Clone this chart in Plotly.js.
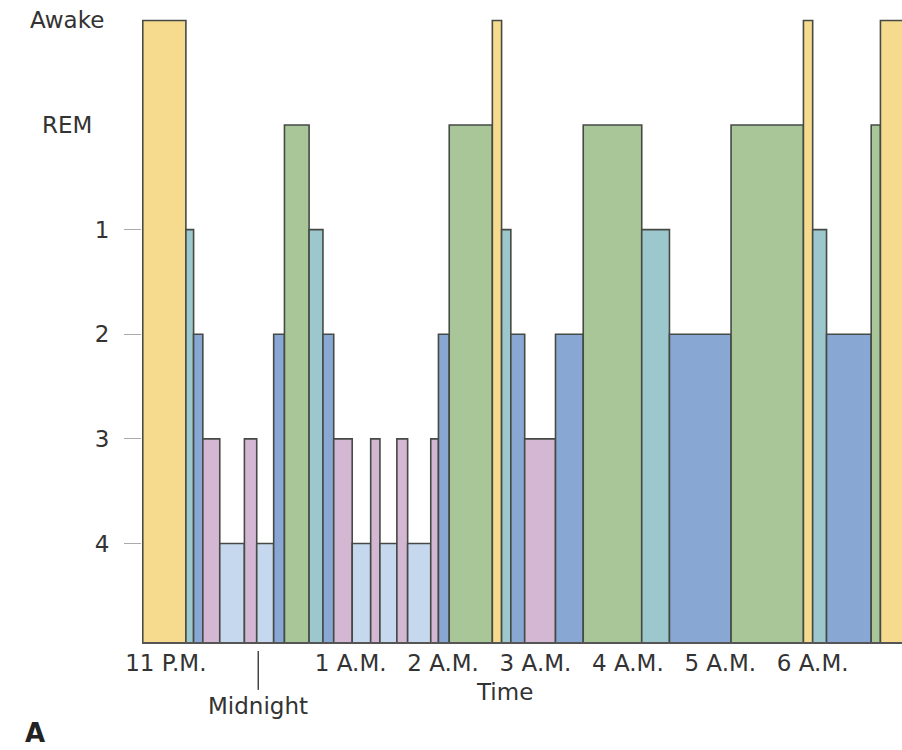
<!DOCTYPE html>
<html>
<head>
<meta charset="utf-8">
<script src="https://cdn.plot.ly/plotly-3.0.1.min.js"></script>
<style>html,body{margin:0;padding:0;background:#fff;}#chart{width:902px;height:750px;}</style>
</head>
<body>
<div id="chart"></div>
<script>
// Sleep stage start times, minutes after 11 P.M.
const stageStarts = [-15, 13, 18, 24, 35, 51, 59, 70, 77, 93, 102, 109, 121, 133, 139, 150, 157, 172, 177, 184, 212, 218, 224, 233, 253, 271, 309, 327, 367, 414, 420, 429, 458, 464];
const recordEnd = 490;
const stages = ["Awake","1","2","3","4","3","4","2","REM","1","2","3","4","3","4","3","4","3","2","REM","Awake","1","2","3","2","REM","1","2","REM","Awake","1","2","REM","Awake"];
// Level order from deepest (bottom) to awake (top)
const levelNames = ["4","3","2","1","REM","Awake"];
const levelValues = [1, 2, 3, 4, 5, 6];
const timeTickVals = [0, 60, 120, 180, 240, 300, 360, 420];
const timeTickText = ["11 P.M.", "", "1 A.M.", "2 A.M.", "3 A.M.", "4 A.M.", "5 A.M.", "6 A.M."];
const midnightLabel = "Midnight";
const axisTitle = "Time";
const panelLabel = "A";

const stageColors = {"Awake":"#F6DA8E","REM":"#A8C698","1":"#9CC8CD","2":"#89A7D3","3":"#D3B7D3","4":"#C5D8EE"};

const ends = stageStarts.slice(1).concat([recordEnd]);
const widths = stageStarts.map((s, i) => ends[i] - s);
const centers = stageStarts.map((s, i) => s + widths[i] / 2);
const heights = stages.map(s => levelValues[levelNames.indexOf(s)]);
const colors = stages.map(s => stageColors[s]);

const fontFam = "DejaVu Sans, Verdana, sans-serif";
const txtColor = "#333333";
const fs = 23;

const trace = {
  type: "bar",
  x: centers,
  y: heights,
  width: widths,
  marker: {color: colors, line: {color: "#454a45", width: 1.6}},
  hoverinfo: "skip"
};

const layout = {
  width: 902, height: 750,
  margin: {l: 142, r: 0, t: 12, b: 108},
  paper_bgcolor: "#ffffff", plot_bgcolor: "#ffffff",
  showlegend: false,
  bargap: 0,
  xaxis: {
    range: [-15.5, 478], showgrid: false, zeroline: false,
    showline: true, linecolor: "#555555", linewidth: 1.5,
    ticks: "", tickvals: timeTickVals, ticktext: timeTickText,
    ticklabelstandoff: 0,
    tickfont: {family: fontFam, size: fs, color: txtColor}
  },
  yaxis: {
    range: [0.058, 6.081], showgrid: false, zeroline: false, showline: false,
    tickvals: levelValues.slice(0, 4), ticktext: levelNames.slice(0, 4),
    ticks: "outside", ticklen: 17, tickcolor: "#aaaaaa", tickwidth: 1,
    ticklabelstandoff: 10,
    tickfont: {family: fontFam, size: fs, color: txtColor}
  },
  shapes: [{
    type: "line", xref: "x", yref: "paper", x0: 60, x1: 60, y0: -0.0143, y1: -0.076,
    line: {color: "#444444", width: 1.5}
  }],
  annotations: [
    {xref: "paper", yref: "y", x: -0.0987, y: levelValues[5], text: levelNames[5], showarrow: false, xanchor: "center", yanchor: "middle", font: {family: fontFam, size: fs, color: txtColor}},
    {xref: "paper", yref: "y", x: -0.0987, y: levelValues[4], text: levelNames[4], showarrow: false, xanchor: "center", yanchor: "middle", font: {family: fontFam, size: fs, color: txtColor}},
    {xref: "x", yref: "paper", x: 60, y: -0.101, text: midnightLabel, showarrow: false, xanchor: "center", yanchor: "middle", font: {family: fontFam, size: fs, color: txtColor}},
    {xref: "x", yref: "paper", x: 220, y: -0.08, text: axisTitle, showarrow: false, xanchor: "center", yanchor: "middle", font: {family: fontFam, size: fs, color: txtColor}},
    {xref: "paper", yref: "paper", x: -0.141, y: -0.144, text: "<b>" + panelLabel + "</b>", showarrow: false, xanchor: "center", yanchor: "middle", font: {family: fontFam, size: 26, color: "#222222"}}
  ]
};

Plotly.newPlot("chart", [trace], layout, {staticPlot: true, displayModeBar: false});
</script>
</body>
</html>
